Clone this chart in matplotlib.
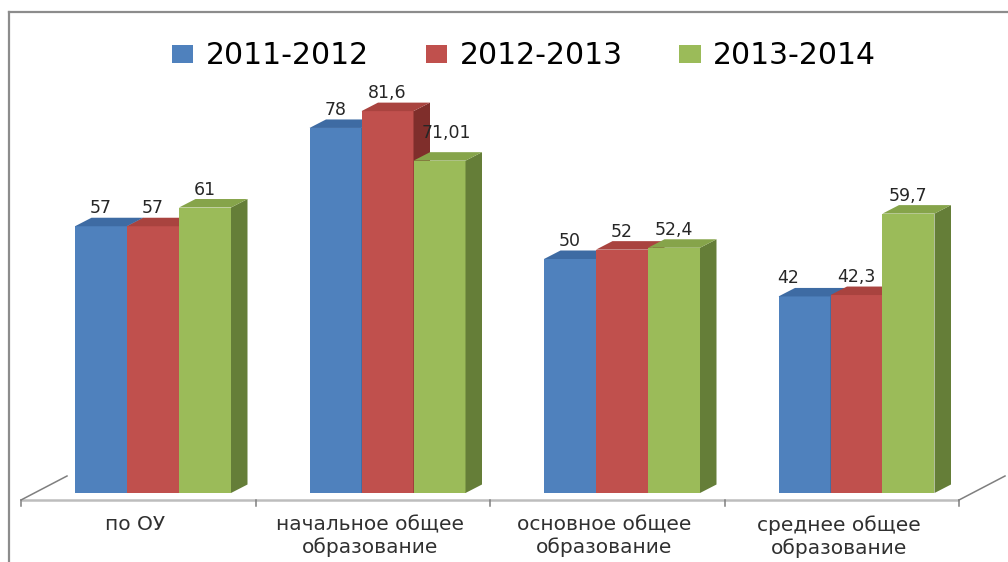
import matplotlib
matplotlib.use("Agg")
import matplotlib.pyplot as plt
from matplotlib.patches import Polygon, Patch
from matplotlib.lines import Line2D

# ---------------- data ----------------
categories = ["по ОУ", "начальное общее\nобразование", "основное общее\nобразование", "среднее общее\nобразование"]
series_names = ["2011-2012", "2012-2013", "2013-2014"]
v2011 = [57, 78, 50, 42]
v2012 = [57, 81.6, 52, 42.3]
v2013 = [61, 71.01, 52.4, 59.7]
label_2011 = ["57", "78", "50", "42"]
label_2012 = ["57", "81,6", "52", "42,3"]
label_2013 = ["61", "71,01", "52,4", "59,7"]

# ---------------- styling ----------------
front_colors = ["#4F81BD", "#C0504D", "#9BBB59"]
top_colors = ["#3E6BA3", "#A9433F", "#86A44A"]
side_colors = ["#365C8C", "#7F2E2B", "#657E38"]

W, H = 1008, 562
DPI = 100
# pixel geometry of the reference
PX_PER_CAT = 234.5      # pixels per category step
X0_PX = 153.0           # pixel column of category 0 centre (middle bar)
BASE_ROW = 493.0        # pixel row of value 0
PX_PER_UNIT = 4.68      # pixels per value unit

def px_to_dx(p):
    return p / PX_PER_CAT

def px_to_dy(p):
    return p / PX_PER_UNIT

fig = plt.figure(figsize=(W / DPI, H / DPI), dpi=DPI)
ax = fig.add_axes([0, 0, 1, 1])
ax.set_xlim(-X0_PX / PX_PER_CAT, (W - X0_PX) / PX_PER_CAT)
ax.set_ylim((BASE_ROW - H) / PX_PER_UNIT, BASE_ROW / PX_PER_UNIT)
ax.axis("off")

bar_w = px_to_dx(52)
depth_x = px_to_dx(16.5)
depth_y = px_to_dy(8.5)

# ---------------- floor ----------------
floor_front_y = px_to_dy(-7)
floor_left = px_to_dx(-132)
floor_dx = px_to_dx(46)
floor_dy = px_to_dy(24)
n = len(categories)
bounds = [floor_left + i for i in range(n + 1)]
ax.plot([bounds[0], bounds[-1]], [floor_front_y, floor_front_y], color="#bdbdbd", lw=1.8, zorder=1,
        solid_capstyle="butt")
for bx in (bounds[0], bounds[-1]):
    ax.plot([bx, bx + floor_dx], [floor_front_y, floor_front_y + floor_dy], color="#7f7f7f", lw=1.1, zorder=1)
for bx in bounds:
    ax.plot([bx, bx], [floor_front_y, floor_front_y - px_to_dy(6)], color="#7f7f7f", lw=1.1, zorder=1)

# ---------------- bars ----------------
all_vals = [v2011, v2012, v2013]
all_labels = [label_2011, label_2012, label_2013]
offsets = [-bar_w, 0.0, bar_w]
# pixel nudges for labels that the original chart moved to avoid overlaps
label_nudge = {(2, 1): (7, 10), (0, 3): (-16, 0)}

for s, (vals, labs) in enumerate(zip(all_vals, all_labels)):
    z = 3 + s
    xs = [i + offsets[s] for i in range(n)]
    ax.bar(xs, vals, width=bar_w, color=front_colors[s], linewidth=0, zorder=z)
    for i, (x, v) in enumerate(zip(xs, vals)):
        xl, xr = x - bar_w / 2, x + bar_w / 2
        side = Polygon([(xr, 0), (xr + depth_x, depth_y), (xr + depth_x, v + depth_y), (xr, v)],
                       closed=True, facecolor=side_colors[s], edgecolor="none", zorder=z)
        top = Polygon([(xl, v), (xr, v), (xr + depth_x, v + depth_y), (xl + depth_x, v + depth_y)],
                      closed=True, facecolor=top_colors[s], edgecolor="none", zorder=z)
        ax.add_patch(side)
        ax.add_patch(top)
        nx, ny = label_nudge.get((s, i), (0, 0))
        ax.annotate(labs[i], xy=(x, v + px_to_dy(18)), xytext=(nx * 0.72, ny * 0.72),
                    textcoords="offset points", ha="center", va="center",
                    fontsize=12.5, color="#262626", family="DejaVu Sans", zorder=10)

# ---------------- category labels ----------------
for i, c in enumerate(categories):
    cx = floor_left + i + 0.5 - px_to_dx(3)
    ax.text(cx, px_to_dy(BASE_ROW - 515), c, ha="center", va="top", fontsize=14.5,
            color="#303030", family="DejaVu Sans", linespacing=1.22)

# ---------------- legend ----------------
handles = [Patch(facecolor=c, edgecolor="none") for c in front_colors]
fig.legend(handles, series_names, loc="center", bbox_to_anchor=(524 / W, 1 - 56 / H),
           ncol=3, frameon=False, handlelength=0.72, handleheight=0.52,
           handletextpad=0.42, columnspacing=1.9, prop={"family": "DejaVu Sans", "size": 21.5})

# ---------------- frame ----------------
fig.add_artist(Line2D([9 / W, 9 / W], [0, 1 - 12 / H], color="#8c8c8c", lw=1.6, transform=fig.transFigure))
fig.add_artist(Line2D([9 / W, 1], [1 - 12 / H, 1 - 12 / H], color="#8c8c8c", lw=1.6, transform=fig.transFigure))

fig.savefig("out.png", dpi=DPI)
